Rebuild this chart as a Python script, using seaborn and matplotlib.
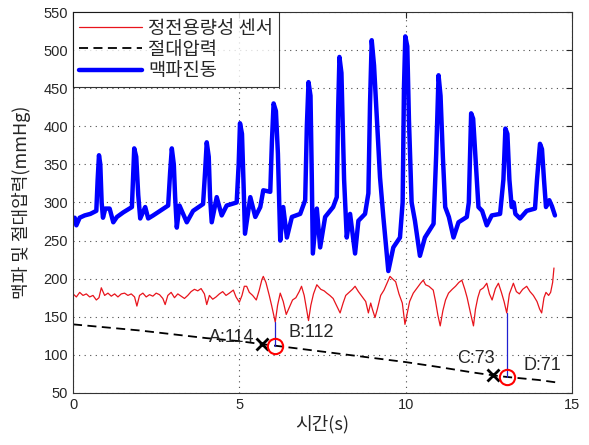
import matplotlib
matplotlib.use('Agg')
import matplotlib.pyplot as plt
import seaborn as sns
import pandas as pd

# 맥파진동 (blue)
pulse_t = [0.05, 0.1, 0.2, 0.35, 0.52, 0.7, 0.74, 0.78, 0.82, 0.86, 0.9, 0.97, 1.1, 1.21, 1.32,
           1.51, 1.77, 1.81, 1.84, 1.9, 1.96, 2.02, 2.17, 2.26, 2.41, 2.62, 2.86, 2.92, 2.97, 3.03,
           3.07, 3.12, 3.2, 3.42, 3.61, 3.91, 3.97, 4.02, 4.08, 4.12, 4.17, 4.32, 4.47, 4.62, 4.92,
           4.98, 5.02, 5.08, 5.13, 5.17, 5.33, 5.48, 5.63, 5.72, 5.93, 5.98, 6.03, 6.1, 6.16, 6.23,
           6.32, 6.43, 6.58, 6.83, 6.98, 7.03, 7.08, 7.14, 7.18, 7.21, 7.33, 7.43, 7.58, 7.82, 7.93,
           7.97, 8.01, 8.07, 8.15, 8.23, 8.33, 8.48, 8.58, 8.78, 8.88, 8.93, 8.98, 9.05, 9.1, 9.23,
           9.33, 9.48, 9.63, 9.83, 9.91, 9.95, 9.99, 10.05, 10.1, 10.18, 10.28, 10.43, 10.58, 10.84,
           10.92, 10.99, 11.05, 11.12, 11.19, 11.3, 11.44, 11.59, 11.84, 11.9, 11.97, 12.03, 12.1,
           12.19, 12.3, 12.44, 12.59, 12.84, 12.94, 13.0, 13.06, 13.12, 13.19, 13.25, 13.3, 13.44,
           13.64, 13.89, 13.95, 14.04, 14.1, 14.16, 14.22, 14.32, 14.4, 14.49]
pulse_v = [280, 270, 280, 283, 285, 289, 330, 362, 350, 300, 280, 292, 292, 274, 281,
           287, 294, 340, 371, 360, 310, 279, 294, 279, 283, 289, 296, 340, 371, 350,
           307, 267, 296, 274, 289, 298, 340, 379, 360, 307, 274, 307, 283, 296, 300,
           350, 404, 390, 320, 259, 307, 281, 294, 316, 314, 380, 430, 420, 364, 250,
           294, 254, 281, 285, 303, 400, 458, 440, 330, 233, 292, 241, 281, 294, 307,
           420, 491, 470, 330, 254, 285, 233, 276, 285, 312, 430, 513, 480, 439, 333,
           281, 210, 241, 254, 300, 450, 518, 505, 408, 300, 276, 230, 254, 272,
           364, 467, 440, 360, 294, 281, 254, 274, 281, 300, 417, 410, 360,
           294, 289, 270, 283, 285, 330, 397, 390, 330, 294, 300, 285, 279,
           289, 292, 330, 377, 370, 330, 294, 303, 295, 283]

# 정전용량성 센서 (red)
sensor_t = [0.0, 0.1, 0.2, 0.3, 0.4, 0.5, 0.6, 0.7, 0.78, 0.85, 0.95, 1.05, 1.15, 1.25, 1.35,
            1.45, 1.55, 1.65, 1.75, 1.85, 1.92, 2.0, 2.1, 2.2, 2.3, 2.4, 2.5, 2.6, 2.7, 2.77,
            2.85, 2.95, 3.05, 3.15, 3.25, 3.35, 3.45, 3.55, 3.65, 3.75, 3.85, 3.95, 4.02, 4.1,
            4.2, 4.3, 4.4, 4.5, 4.6, 4.7, 4.82, 4.9, 5.0, 5.08, 5.15, 5.22, 5.3, 5.4, 5.51, 5.6,
            5.68, 5.72, 5.8, 5.9, 5.97, 6.08, 6.15, 6.23, 6.32, 6.41, 6.5, 6.6, 6.7, 6.8, 6.87,
            6.95, 7.02, 7.08, 7.15, 7.23, 7.33, 7.45, 7.55, 7.63, 7.72, 7.82, 7.92, 8.03, 8.12,
            8.2, 8.3, 8.4, 8.48, 8.58, 8.7, 8.8, 8.88, 8.95, 9.0, 9.08, 9.15, 9.25, 9.35, 9.45,
            9.53, 9.6, 9.7, 9.8, 9.9, 9.98, 10.05, 10.12, 10.23, 10.35, 10.45, 10.53, 10.6, 10.7,
            10.83, 10.9, 10.97, 11.04, 11.12, 11.2, 11.29, 11.4, 11.5, 11.6, 11.69, 11.78, 11.85,
            11.95, 12.04, 12.1, 12.17, 12.24, 12.34, 12.44, 12.52, 12.6, 12.7, 12.79, 12.88,
            12.96, 13.04, 13.12, 13.24, 13.33, 13.42, 13.52, 13.64, 13.74, 13.84, 13.95, 14.03,
            14.09, 14.16, 14.22, 14.3, 14.36, 14.42, 14.46]
sensor_v = [180, 176, 182, 178, 180, 176, 178, 172, 175, 188, 178, 181, 177, 180, 176,
            180, 181, 178, 180, 176, 164, 178, 181, 176, 179, 177, 181, 179, 174, 166,
            178, 182, 175, 180, 177, 174, 178, 183, 186, 184, 187, 180, 166, 178,
            173, 176, 180, 183, 178, 181, 185, 176, 169, 178, 190, 190, 182, 178, 172, 185,
            199, 203, 195, 178, 165, 143, 165, 181, 170, 153, 162, 172, 175, 183, 190,
            178, 160, 145, 165, 180, 192, 186, 184, 181, 178, 174, 165, 155, 168,
            178, 182, 186, 190, 183, 176, 170, 155, 168, 160, 149, 160, 178, 185, 195,
            203, 200, 196, 180, 168, 140, 155, 170, 181, 188, 194, 198, 192, 190,
            185, 170, 152, 138, 158, 172, 181, 186, 190, 195, 198, 186, 175,
            155, 138, 160, 175, 185, 188, 194, 180, 172, 187, 194, 182,
            170, 155, 180, 194, 183, 180, 186, 190, 183, 178, 170, 160,
            155, 175, 182, 178, 182, 195, 214]

# 절대압력 (black dashed)
abs_t = [0.0, 1.0, 2.0, 3.0, 4.0, 5.0, 5.68, 6.08, 7.0, 8.0, 9.0, 10.0, 11.0, 12.0, 12.64, 13.04, 14.0, 14.5]
abs_v = [140, 136, 132, 127, 122, 118, 114, 112, 107, 101.5, 96, 90.5, 84, 77, 73, 71, 67, 64]

# 표시점
mark_x = [5.68, 12.64]
mark_y = [114, 73]
circ_x = [6.08, 13.04]
circ_y = [112, 71]
circ_top = [143, 155]
point_labels = ['A:114', 'B:112', 'C:73', 'D:71']

sns.set_style('white')
plt.rcParams['font.family'] = ['Noto Sans CJK KR', 'DejaVu Sans']

fig = plt.figure(figsize=(5.89, 4.45), dpi=100)
ax = fig.add_axes([0.124, 0.117, 0.847, 0.856])

sns.lineplot(x=sensor_t, y=sensor_v, ax=ax, color='#e8141c', lw=0.9, label='정전용량성 센서', estimator=None)
sns.lineplot(x=abs_t, y=abs_v, ax=ax, color='black', lw=1.3, linestyle='--', dashes=False,
             label='절대압력', estimator=None)
ax.lines[-1].set_dashes([5, 3])
sns.lineplot(x=pulse_t, y=pulse_v, ax=ax, color='#0000ff', lw=3.2, label='맥파진동', estimator=None)

# 수직선 및 마커
for x, y0, y1 in zip(circ_x, circ_y, circ_top):
    ax.plot([x, x], [y0, y1], color='#2020d0', lw=0.9)
ax.plot(mark_x, mark_y, 'x', color='black', ms=9, mew=2)
ax.plot(circ_x, circ_y, 'o', mfc='none', mec='red', ms=11, mew=1.5)

lbl_font = dict(family=['Liberation Sans', 'DejaVu Sans'], fontsize=13)
ax.text(5.45, 111, point_labels[0], ha='right', va='bottom', **lbl_font)
ax.text(6.47, 129, point_labels[1], ha='left', va='center', **lbl_font)
ax.text(12.69, 84, point_labels[2], ha='right', va='bottom', **lbl_font)
ax.text(13.53, 86, point_labels[3], ha='left', va='center', **lbl_font)

ax.set_xlim(0, 15)
ax.set_ylim(50, 550)
ax.set_xticks([0, 5, 10, 15])
ax.set_yticks(range(50, 551, 50))
ax.grid(True, linestyle=(0, (1, 4)), color='black', lw=0.8, alpha=0.7)
ax.tick_params(direction='in', length=4, top=True, right=True, labelsize=10.5)
for lab in ax.get_xticklabels() + ax.get_yticklabels():
    lab.set_family(['Liberation Sans', 'DejaVu Sans'])
for s in ax.spines.values():
    s.set_color('#333333')
    s.set_linewidth(0.8)

ax.set_xlabel('시간(s)', fontsize=13, labelpad=2)
ax.set_ylabel('맥파 및 절대압력(mmHg)', fontsize=13, labelpad=9)

leg = ax.legend(loc='upper left', fontsize=13.5, frameon=True, fancybox=False,
                borderaxespad=0, handlelength=3.4, labelspacing=0.02, borderpad=0.3,
                handletextpad=0.3)
leg.get_frame().set_edgecolor('black')
leg.get_frame().set_linewidth(0.8)

fig.savefig('out.png', dpi=100)
